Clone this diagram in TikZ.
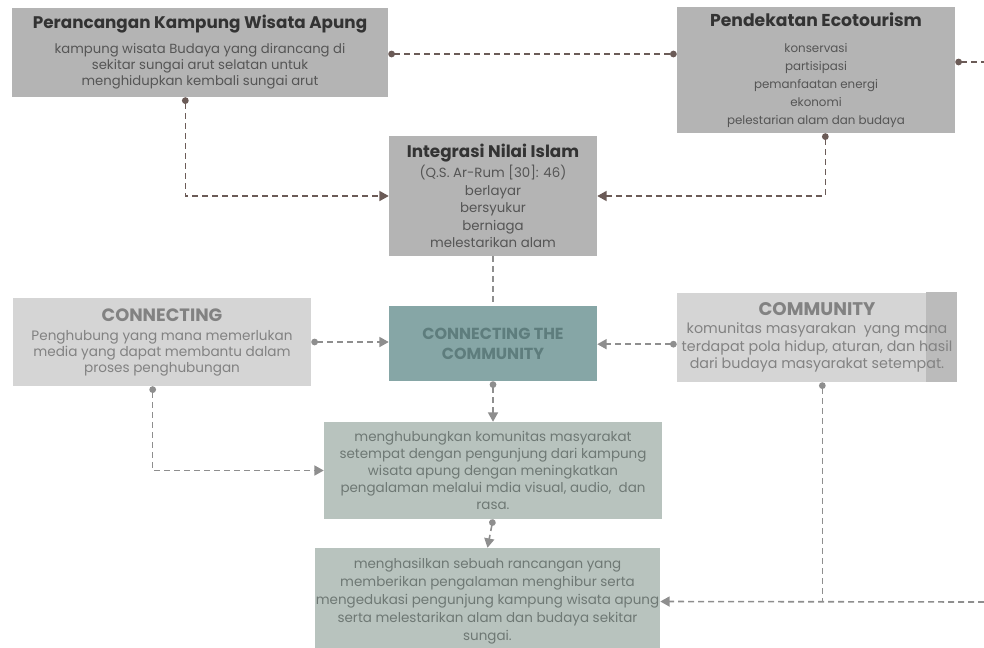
\documentclass[tikz,border=0pt]{standalone}
\usepackage{fontspec}
\setmainfont{Poppins}
\usepackage{tikz}
\usetikzlibrary{arrows.meta, positioning, calc, backgrounds}

\definecolor{boxtop}{HTML}{B4B4B4}
\definecolor{boxlite}{HTML}{D5D5D5}
\definecolor{boxstrip}{HTML}{BBBBBB}
\definecolor{boxteal}{HTML}{86A6A6}
\definecolor{boxsage}{HTML}{B8C3BE}
\definecolor{txtdark}{HTML}{333333}
\definecolor{txtmid}{HTML}{555555}
\definecolor{txtlite}{HTML}{828282}
\definecolor{txtteal}{HTML}{5E7D7D}
\definecolor{txtsage}{HTML}{6E7874}
\definecolor{linkbrown}{HTML}{6B5B57}
\definecolor{linkgrey}{HTML}{8E8E8E}

\newcommand{\judul}[1]{\fontsize{#1}{#1}\selectfont\bfseries}
\newcommand{\isi}[2]{\fontsize{#1}{#2}\selectfont}

\tikzset{
  % --- kotak konsep -----------------------------------------
  topbox/.style={fill=boxtop, align=center, inner sep=0pt, text=txtmid},
  litebox/.style={fill=boxlite, align=center, inner sep=0pt, text=txtlite},
  tealbox/.style={fill=boxteal, align=center, inner sep=0pt,
    font=\fontsize{12}{15}\selectfont\bfseries, text=txtteal},
  sagebox/.style={fill=boxsage, align=center, inner sep=0pt, text=txtsage},
  % --- penghubung -------------------------------------------
  link/.style={line width=1.2pt, dash pattern=on 4.5pt off 3pt},
  lkb/.style={link, draw=linkbrown},
  lkg/.style={link, draw=linkgrey},
  dotarr/.style={{Circle[length=5pt, width=5pt]}-{Triangle[length=7pt, width=7.5pt]}},
  dotdot/.style={{Circle[length=5pt, width=5pt]}-{Circle[length=5pt, width=5pt]}},
  dotend/.style={{Circle[length=5pt, width=5pt]}-},
  arrend/.style={-{Triangle[length=7pt, width=7.5pt]}}
}

\begin{document}
\begin{tikzpicture}[x=0.75pt, y=0.75pt]
  \useasboundingbox (0,0) rectangle (984,-647);

  % ---------- Baris atas ----------
  \node[topbox, minimum width=282pt, minimum height=66.75pt,
        font=\isi{9.9}{12}] (pkwa) at (200,-52.5)
    {{\judul{12.6}\color{txtdark}Perancangan Kampung Wisata Apung}\\[6.75pt]
     kampung wisata Budaya yang dirancang di\\
     sekitar sungai arut selatan untuk\\
     menghidupkan kembali sungai arut};
  \node[topbox, minimum width=208.5pt, minimum height=94.5pt,
        font=\isi{8.9}{13.5}] (eco) at (816,-70)
    {{\judul{12.9}\color{txtdark}Pendekatan Ecotourism}\\[6pt]
     konservasi\\ partisipasi\\ pemanfaatan energi\\ ekonomi\\
     pelestarian alam dan budaya};
  \node[topbox, minimum width=156pt, minimum height=90pt,
        font=\isi{10}{13.1}] (islam) at (493,-196)
    {{\judul{12.6}\color{txtdark}Integrasi Nilai Islam}\\[2pt]
     (Q.S. Ar-Rum [30]: 46)\\ berlayar\\ bersyukur\\ berniaga\\
     melestarikan alam};

  % ---------- Baris tengah ----------
  \node[litebox, minimum width=223.5pt, minimum height=66pt,
        font=\isi{10.2}{12}] (conn) at (162,-342)
    {{\judul{13.4}CONNECTING}\\[2.25pt]
     Penghubung yang mana memerlukan\\
     media yang dapat membantu dalam\\
     proses penghubungan};
  \node[tealbox, minimum width=156pt, minimum height=56.25pt] (ctc) at (493,-343.5)
    {CONNECTING THE\\ COMMUNITY};
  \node[litebox, fill=none, minimum width=210pt, minimum height=66.75pt,
        font=\isi{10.7}{13}] (comm) at (817,-337.5)
    {{\judul{13.7}COMMUNITY}\\[0.5pt]
     komunitas masyarakan~ yang mana\\
     terdapat pola hidup, aturan, dan hasil\\
     dari budaya masyarakat setempat.};
  \begin{scope}[on background layer]
    \fill[boxlite] (comm.south west) rectangle (comm.north east);
    \fill[boxstrip] (926,-292) rectangle (comm.south east);
  \end{scope}

  % ---------- Baris bawah ----------
  \node[sagebox, minimum width=253.5pt, minimum height=72.75pt,
        font=\isi{10.1}{12.75}] (hub) at (493,-470.5)
    {menghubungkan komunitas masyarakat\\
     setempat dengan pengunjung dari kampung\\
     wisata apung dengan meningkatkan\\
     pengalaman melalui mdia visual, audio,~ dan\\
     rasa.};
  \node[sagebox, minimum width=258.75pt, minimum height=80.25pt,
        font=\isi{10.1}{13.5}] (hasil) at (487.5,-601.5)
    {menghasilkan sebuah rancangan yang\\
     memberikan pengalaman menghibur serta\\
     mengedukasi pengunjung kampung wisata apung\\
     serta melestarikan alam dan budaya sekitar\\
     sungai.};

  \coordinate (rout) at (984,-62);
  \coordinate (rin) at (984,-602);

  % ---------- Ketersambungan ----------
  \draw[lkb, dotdot] (pkwa.east |- 0,-54) -- (eco.west |- 0,-54);
  \draw[lkb, dotend] ([yshift=6pt]eco.east) -- (rout);
  \draw[lkb, dotarr] ([xshift=-11pt]pkwa.south) |- (islam.west);
  \draw[lkb, dotarr] ([xshift=7pt]eco.south) |- (islam.east);
  \draw[lkg] (islam.south) -- (ctc.north);
  \draw[lkg, dotarr] (conn.east) -- (conn.east -| ctc.west);
  \draw[lkg, dotarr] ([yshift=-5pt]comm.west) -- ([yshift=-5pt]comm.west -| ctc.east);
  \draw[lkg, dotarr] (ctc.south) -- (hub.north);
  \draw[lkg, dotarr] ([xshift=-7pt]conn.south) |- (hub.west);
  \draw[lkg, dotarr] (hub.south) -- (hasil.north);
  \draw[lkg, arrend] (rin) -- (hasil.east);
  \draw[lkg, dotend] ([xshift=4pt]comm.south) -- ([xshift=4pt]comm.south |- hasil.east);

\end{tikzpicture}
\end{document}
